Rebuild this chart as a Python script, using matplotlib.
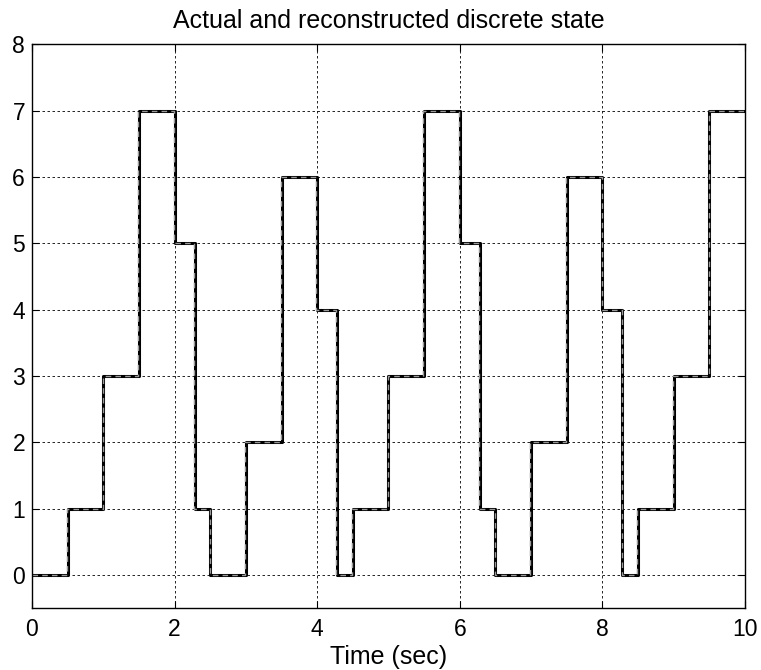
import matplotlib
matplotlib.use("Agg")
import matplotlib.pyplot as plt

# switching times (sec) and discrete state values
t_actual = [0, 0.5, 1.0, 1.5, 2.0, 2.28, 2.5, 3.0, 3.5, 4.0, 4.28, 4.5, 5.0,
            5.5, 6.0, 6.28, 6.5, 7.0, 7.5, 8.0, 8.28, 8.5, 9.0, 9.5, 10.0]
q_actual = [0, 1, 3, 7, 5, 1, 0, 2, 6, 4, 0, 1, 3, 7, 5, 1, 0, 2, 6, 4, 0, 1,
            3, 7, 7]
t_recon = [0, 0.49, 0.99, 1.49, 1.99, 2.27, 2.49, 2.99, 3.49, 3.99, 4.27, 4.49,
           4.99, 5.49, 5.99, 6.27, 6.49, 6.99, 7.49, 7.99, 8.27, 8.49, 8.99,
           9.49, 9.99]
q_recon = q_actual

plt.rcParams["font.family"] = ["Liberation Sans", "DejaVu Sans"]

fig = plt.figure(figsize=(7.61, 6.70), dpi=100)
ax = fig.add_axes([0.042, 0.0925, 0.937, 0.8415])

ax.plot(t_actual, q_actual, drawstyle="steps-post", color="black", lw=2.2)
ax.plot(t_recon, q_recon, drawstyle="steps-post", color="0.6", lw=1.0,
        ls=(0, (4, 3)))

ax.set_xlim(0, 10)
ax.set_ylim(-0.5, 8)
ax.set_xticks([0, 2, 4, 6, 8, 10])
ax.set_yticks(range(0, 9))
ax.grid(True, color="black", ls=(0, (3, 3)), lw=0.6)
ax.tick_params(direction="in", length=5, labelsize=16.5, top=True, right=True)
ax.tick_params(axis="x", pad=7)
ax.tick_params(axis="y", pad=5)
for s in ax.spines.values():
    s.set_linewidth(1.0)

ax.set_xlabel("Time (sec)", fontsize=18, labelpad=3)
ax.set_title("Actual and reconstructed discrete state", fontsize=18, pad=12)

fig.savefig("out.png", dpi=100)
